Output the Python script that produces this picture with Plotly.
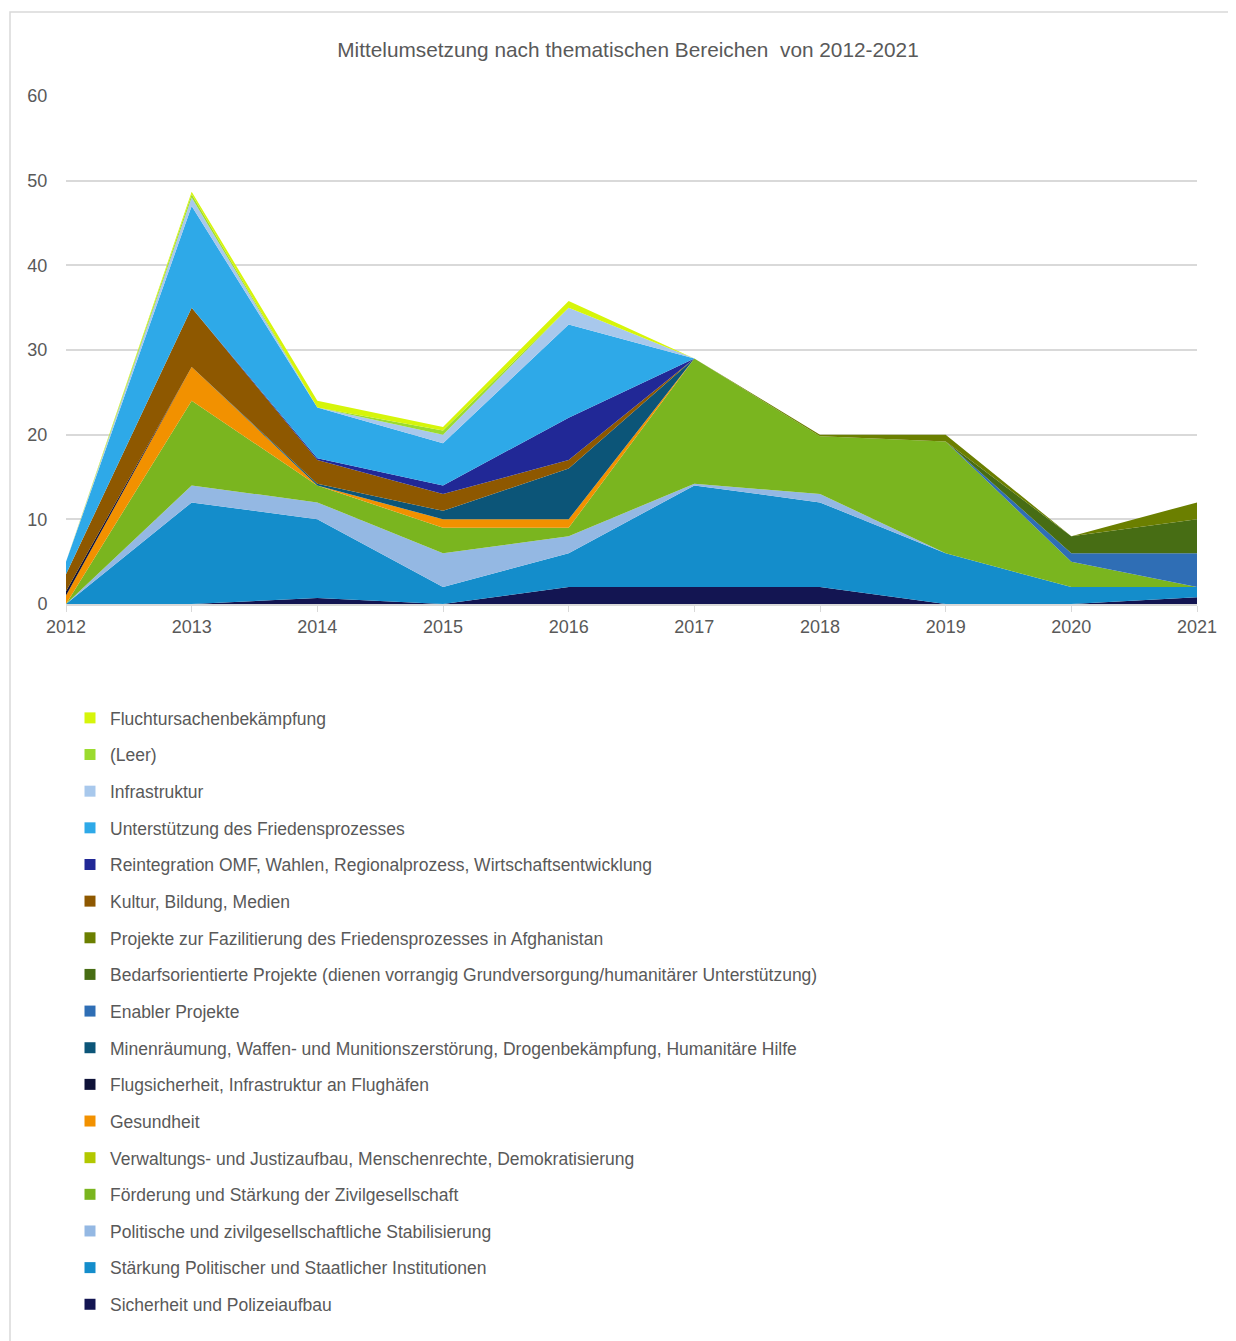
import plotly.graph_objects as go

years = [2012, 2013, 2014, 2015, 2016, 2017, 2018, 2019, 2020, 2021]

# stacking order: bottom first
sicherheit = [0, 0, 0.7, 0, 2, 2, 2, 0, 0, 0.8]
staerkung = [0, 12, 9.3, 2, 4, 12, 10, 6, 2, 1.2]
politische = [0, 2, 2, 4, 2, 0.2, 1, 0, 0, 0]
foerderung = [0, 10, 2, 3, 1, 14.8, 6.8, 13.2, 3, 0]
verwaltung = [0, 0, 0, 0, 0, 0, 0, 0, 0, 0]
gesundheit = [1, 4, 0, 1, 1, 0, 0, 0, 0, 0]
flugsicherheit = [0.5, 0, 0, 0, 0, 0, 0, 0, 0, 0]
minenraeumung = [0, 0, 0.2, 1, 6, 0, 0, 0, 0, 0]
enabler = [0, 0, 0, 0, 0, 0, 0, 0, 1, 4]
bedarf = [0, 0, 0, 0, 0, 0, 0, 0, 2, 4]
fazilitierung = [0, 0, 0, 0, 0, 0, 0.2, 0.8, 0, 2]
kultur = [2, 7, 2.8, 2, 1, 0, 0, 0, 0, 0]
reintegration = [0, 0, 0.2, 1, 5, 0, 0, 0, 0, 0]
unterstuetzung = [1.5, 12, 6, 5, 11, 0, 0, 0, 0, 0]
infrastruktur = [0, 1, 0, 1, 2, 0, 0, 0, 0, 0]
leer = [0, 0.4, 0, 0.5, 0, 0, 0, 0, 0, 0]
flucht = [0, 0.3, 0.8, 0.4, 0.8, 0, 0, 0, 0, 0]

series = [
    ("Sicherheit und Polizeiaufbau", sicherheit, "#131552"),
    ("Stärkung Politischer und Staatlicher Institutionen", staerkung, "#148DCB"),
    ("Politische und zivilgesellschaftliche Stabilisierung", politische, "#94B8E3"),
    ("Förderung und Stärkung der Zivilgesellschaft", foerderung, "#7AB51F"),
    ("Verwaltungs- und Justizaufbau, Menschenrechte, Demokratisierung", verwaltung, "#B2C800"),
    ("Gesundheit", gesundheit, "#F29100"),
    ("Flugsicherheit, Infrastruktur an Flughäfen", flugsicherheit, "#0F1238"),
    ("Minenräumung, Waffen- und Munitionszerstörung, Drogenbekämpfung, Humanitäre Hilfe", minenraeumung, "#0C5578"),
    ("Enabler Projekte", enabler, "#2F6EB5"),
    ("Bedarfsorientierte Projekte (dienen vorrangig Grundversorgung/humanitärer Unterstützung)", bedarf, "#476D14"),
    ("Projekte zur Fazilitierung des Friedensprozesses in Afghanistan", fazilitierung, "#6B7F00"),
    ("Kultur, Bildung, Medien", kultur, "#8E5800"),
    ("Reintegration OMF, Wahlen, Regionalprozess, Wirtschaftsentwicklung", reintegration, "#212896"),
    ("Unterstützung des Friedensprozesses", unterstuetzung, "#2EA9E8"),
    ("Infrastruktur", infrastruktur, "#A8C8EC"),
    ("(Leer)", leer, "#9BDB2F"),
    ("Fluchtursachenbekämpfung", flucht, "#D6F50A"),
]

fig = go.Figure()
for name, vals, color in series:
    fig.add_trace(go.Scatter(
        x=years, y=vals, name=name, mode="lines", stackgroup="one",
        line=dict(width=0, color=color), fillcolor=color,
        showlegend=False, hoverinfo="x+y+name",
    ))
# legend entries: top of stack listed first
for i, (name, vals, color) in enumerate(reversed(series)):
    fig.add_trace(go.Scatter(
        x=[None], y=[None], name=name, mode="markers",
        marker=dict(symbol="square", size=11, color=color),
        legendgroup="g%02d" % i, showlegend=True,
    ))

OFF = 8  # page body margin
W, H = 1236 - OFF, 1341 - OFF
L, R, T, B = 66 - OFF, 1197 - OFF, 96 - OFF, 604 - OFF
pw, ph = R - L, B - T

def px(x):
    return (x - OFF - L) / pw

def py(y):
    return (B - (y - OFF)) / ph

fig.add_shape(type="rect", xref="paper", yref="paper",
              x0=px(10), x1=px(1245), y0=py(12), y1=py(1350),
              line=dict(color="#D9D9D9", width=1.5), fillcolor="rgba(0,0,0,0)", layer="below")

fig.update_layout(
    width=W, height=H,
    margin=dict(l=L, r=W - R, t=T, b=H - B, autoexpand=False),
    paper_bgcolor="white", plot_bgcolor="white",
    font=dict(family="Liberation Sans, Arial, sans-serif", color="#595959", size=18),
    title=dict(text="Mittelumsetzung nach thematischen Bereichen  von 2012-2021",
               x=px(628), xanchor="center", xref="paper",
               y=1 - (50 - OFF) / H, yanchor="middle",
               font=dict(size=20.8, color="#595959")),
    xaxis=dict(range=[2012, 2021], tickvals=years, ticktext=[str(y) for y in years],
               showgrid=False, zeroline=False, showline=True, linecolor="#D9D9D9", linewidth=1.5,
               ticks="outside", ticklen=6, tickcolor="#D9D9D9",
               tickfont=dict(size=18, color="#595959")),
    yaxis=dict(range=[0, 60], dtick=10, showgrid=True, gridcolor="#D9D9D9", gridwidth=1.5,
               zeroline=False, showline=False, ticks="outside", ticklen=14,
               tickcolor="rgba(0,0,0,0)", tickfont=dict(size=18, color="#595959")),
    legend=dict(x=px(70), xanchor="left", y=py(700), yanchor="top",
                traceorder="grouped", tracegroupgap=10.9,
                font=dict(size=17.5, color="#595959"), bgcolor="rgba(0,0,0,0)"),
    showlegend=True,
)

fig.write_html("out.html")
